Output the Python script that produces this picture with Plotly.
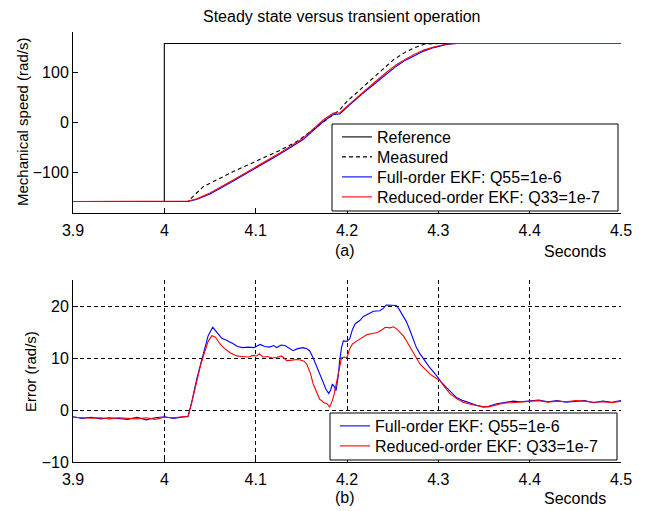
import plotly.graph_objects as go

# ---------------- data ----------------
t_ref = [3.9, 4.0, 4.0, 4.5]
speed_ref = [-157, -157, 157, 157]

t_meas = [3.9, 4.026, 4.032, 4.043, 4.06, 4.076, 4.092, 4.108, 4.127, 4.145, 4.16, 4.167,
          4.18, 4.192, 4.2, 4.211, 4.222, 4.237, 4.251, 4.263, 4.273, 4.285, 4.3, 4.5]
speed_meas = [-157, -157, -146, -127, -112, -97, -84, -71, -55, -38, -18, -8,
              10, 25, 42, 60, 78, 103, 125, 139, 148, 156, 157, 157]

t_est = [3.9, 4.026, 4.035, 4.05, 4.075, 4.101, 4.127, 4.152, 4.163, 4.174, 4.185, 4.192,
         4.203, 4.216, 4.229, 4.242, 4.254, 4.264, 4.273, 4.284, 4.295, 4.309, 4.32, 4.5]
speed_full = [-157, -157, -153, -142, -117, -90, -62, -34, -16, 2, 16, 17,
              35, 56, 75, 95, 112, 124, 132, 142, 149, 155, 157, 157]
speed_red = [-157, -156, -152, -140, -115, -87.5, -60, -31, -13, 5, 18.7, 19,
             37, 58, 78, 98, 115, 126, 135, 144, 150, 156, 157, 157]

t_err_full = [3.9, 3.91, 3.92, 3.93, 3.94, 3.95, 3.96, 3.97, 3.98, 3.99, 4.0, 4.01, 4.02, 4.026,
              4.03, 4.035, 4.04, 4.043, 4.048, 4.053, 4.056, 4.059, 4.063, 4.068, 4.075, 4.08,
              4.086, 4.092, 4.098, 4.105, 4.11, 4.115, 4.12, 4.123, 4.128, 4.132, 4.137, 4.141,
              4.146, 4.152, 4.156, 4.159, 4.163, 4.167, 4.171, 4.174, 4.177, 4.18, 4.182, 4.184,
              4.186, 4.188, 4.19, 4.192, 4.194, 4.196, 4.2, 4.203, 4.206, 4.209, 4.214, 4.218,
              4.223, 4.229, 4.236, 4.24, 4.243, 4.248, 4.254, 4.257, 4.26, 4.265, 4.269, 4.273,
              4.276, 4.28, 4.285, 4.29, 4.298, 4.303, 4.309, 4.315, 4.32, 4.327, 4.335, 4.342,
              4.349, 4.355, 4.364, 4.372, 4.382, 4.39, 4.4, 4.41, 4.42, 4.43, 4.44, 4.45, 4.46,
              4.47, 4.48, 4.49, 4.5]
err_full = [-1.3, -1.6, -1.4, -1.7, -1.5, -1.6, -1.8, -1.4, -1.9, -1.5, -1.3, -1.6, -1.4, -1.2,
            1.5, 5.6, 9.0, 10.8, 14.3, 15.9, 15.2, 14.6, 13.8, 13.4, 12.8, 12.2,
            12.0, 12.1, 12.0, 12.6, 12.2, 12.1, 12.4, 12.0, 12.5, 12.4, 11.8, 11.4,
            11.8, 12.0, 11.8, 11.4, 10.0, 8.2, 6.5, 5.0, 4.0, 3.2, 3.8, 5.0,
            4.5, 3.7, 6.0, 9.5, 12.0, 13.3, 13.2, 13.7, 15.5, 16.6, 17.2, 18.0,
            18.4, 19.0, 19.1, 19.6, 20.2, 20.2, 20.1, 19.4, 18.5, 17.0, 15.3, 13.5,
            12.0, 10.8, 9.5, 8.3, 6.6, 5.4, 4.3, 3.2, 2.4, 1.8, 1.3, 0.9,
            0.6, 0.7, 1.2, 1.4, 1.7, 1.6, 1.8, 1.9, 1.6, 1.8, 1.5, 1.7, 1.8,
            1.4, 1.7, 1.5, 1.8]

t_err_red = [3.9, 3.91, 3.92, 3.93, 3.94, 3.95, 3.96, 3.97, 3.98, 3.99, 4.0, 4.01, 4.02, 4.026,
             4.03, 4.035, 4.04, 4.043, 4.048, 4.052, 4.056, 4.061, 4.066, 4.072, 4.079, 4.085,
             4.092, 4.097, 4.101, 4.104, 4.108, 4.113, 4.118, 4.123, 4.128, 4.131, 4.134, 4.14,
             4.145, 4.149, 4.153, 4.156, 4.16, 4.163, 4.167, 4.17, 4.175, 4.178, 4.181, 4.184,
             4.186, 4.19, 4.192, 4.194, 4.197, 4.2, 4.203, 4.206, 4.211, 4.216, 4.222, 4.228,
             4.233, 4.238, 4.242, 4.247, 4.251, 4.255, 4.258, 4.262, 4.265, 4.269, 4.273, 4.277,
             4.28, 4.285, 4.291, 4.296, 4.302, 4.307, 4.313, 4.32, 4.327, 4.335, 4.342, 4.349,
             4.355, 4.362, 4.371, 4.38, 4.39, 4.4, 4.41, 4.42, 4.43, 4.44, 4.45, 4.46, 4.47,
             4.48, 4.49, 4.5]
err_red = [-1.4, -1.5, -1.6, -1.5, -1.7, -1.5, -1.6, -1.7, -1.5, -1.8, -1.4, -1.5, -1.3, -1.3,
           1.4, 5.4, 8.8, 10.5, 13.2, 14.3, 14.0, 12.7, 11.8, 11.0, 10.4, 10.3,
           10.2, 10.5, 10.4, 10.8, 10.2, 10.3, 10.0, 10.1, 10.4, 10.0, 9.5, 9.6,
           9.7, 9.6, 9.4, 8.8, 7.0, 5.0, 3.4, 2.1, 1.4, 1.2, 0.6, 1.8,
           3.1, 6.5, 8.8, 10.0, 10.2, 10.1, 11.8, 12.7, 13.3, 13.8, 14.5, 14.7,
           14.9, 15.4, 15.9, 15.8, 16.0, 15.5, 14.9, 14.2, 13.3, 12.0, 10.8, 9.7,
           8.8, 7.9, 6.9, 6.3, 5.6, 4.4, 3.1, 2.2, 1.5, 1.1, 0.8, 0.6,
           0.6, 0.9, 1.3, 1.4, 1.5, 1.7, 1.8, 1.5, 1.7, 1.6, 1.8, 1.7, 1.5,
           1.6, 1.4, 1.7]

x_ticks = [3.9, 4.0, 4.1, 4.2, 4.3, 4.4, 4.5]
x_ticktext = ["3.9", "4", "4.1", "4.2", "4.3", "4.4", "4.5"]
y1_ticks = [-100, 0, 100]
y2_ticks = [-10, 0, 10, 20]

names = ["Reference", "Measured", "Full-order EKF: Q55=1e-6", "Reduced-order EKF: Q33=1e-7"]

# ---------------- figure ----------------
W, H = 650, 511
FONT = "Liberation Sans, Arial, sans-serif"


def px_x(p):
    return p / W


def px_y(p):
    return 1 - p / H


fig = go.Figure()
lw = 1.1
fig.add_trace(go.Scatter(x=t_ref, y=speed_ref, mode="lines", name=names[0],
                         line=dict(color="black", width=lw), xaxis="x", yaxis="y", legend="legend"))
fig.add_trace(go.Scatter(x=t_meas, y=speed_meas, mode="lines", name=names[1],
                         line=dict(color="black", width=lw, dash="4px,3px"), xaxis="x", yaxis="y",
                         legend="legend2"))
fig.add_trace(go.Scatter(x=t_est, y=speed_full, mode="lines", name=names[2],
                         line=dict(color="blue", width=lw), xaxis="x", yaxis="y", legend="legend3"))
fig.add_trace(go.Scatter(x=t_est, y=speed_red, mode="lines", name=names[3],
                         line=dict(color="red", width=lw), xaxis="x", yaxis="y", legend="legend4"))
fig.add_trace(go.Scatter(x=t_err_full, y=err_full, mode="lines", name=names[2],
                         line=dict(color="blue", width=lw), xaxis="x2", yaxis="y2", legend="legend5"))
fig.add_trace(go.Scatter(x=t_err_red, y=err_red, mode="lines", name=names[3],
                         line=dict(color="red", width=lw), xaxis="x2", yaxis="y2", legend="legend6"))

axis_common = dict(showline=True, linecolor="black", linewidth=1, ticks="inside", ticklen=5,
                   tickcolor="black", zeroline=False, mirror=False, automargin=False,
                   tickfont=dict(family=FONT, size=16, color="black"))

xdom = [px_x(73), px_x(621)]


def leg(xp, yp):
    return dict(x=px_x(xp), y=px_y(yp), xanchor="left", yanchor="middle",
                bgcolor="rgba(0,0,0,0)", borderwidth=0,
                font=dict(family=FONT, size=16, color="black"))


fig.update_layout(
    width=W, height=H, margin=dict(l=0, r=0, t=0, b=0, autoexpand=False),
    paper_bgcolor="white", plot_bgcolor="white",
    font=dict(family=FONT, size=16, color="black"),
    xaxis=dict(domain=xdom, anchor="y", range=[3.9, 4.5], tickvals=x_ticks, ticktext=x_ticktext,
               showgrid=False, ticklabelstandoff=3, **axis_common),
    yaxis=dict(domain=[px_y(213), px_y(32)], anchor="x", range=[-180, 180], tickvals=y1_ticks,
               showgrid=False, **axis_common),
    xaxis2=dict(domain=xdom, anchor="y2", range=[3.9, 4.5], tickvals=x_ticks, ticktext=x_ticktext,
                showgrid=True, gridcolor="black", gridwidth=1, griddash="4px,3px",
                ticklabelstandoff=3, **axis_common),
    yaxis2=dict(domain=[px_y(462), px_y(280)], anchor="x2", range=[-10, 25], tickvals=y2_ticks,
                showgrid=True, gridcolor="black", gridwidth=1, griddash="4px,3px", **axis_common),
    legend=leg(337, 137),
    legend2=leg(337, 157),
    legend3=leg(337, 177),
    legend4=leg(337, 197),
    legend5=leg(335, 426),
    legend6=leg(335, 446),
    showlegend=True,
)

# legend frames
for (x0, y0, x1, y1) in [(332, 124, 618, 211), (330, 413, 617, 460)]:
    fig.add_shape(type="rect", xref="paper", yref="paper",
                  x0=px_x(x0), x1=px_x(x1), y0=px_y(y1), y1=px_y(y0),
                  fillcolor="white", line=dict(color="black", width=1), layer="above")

ann = dict(xref="paper", yref="paper", showarrow=False)
f16 = dict(family=FONT, size=16, color="black")
f15 = dict(family=FONT, size=15, color="black")
fig.add_annotation(x=px_x(342), y=px_y(17), text="Steady state versus transient operation",
                   xanchor="center", yanchor="middle", font=f16, **ann)
fig.add_annotation(x=px_x(345), y=px_y(250), text="(a)", xanchor="center", yanchor="middle", font=f16, **ann)
fig.add_annotation(x=px_x(575), y=px_y(251), text="Seconds", xanchor="center", yanchor="middle", font=f16, **ann)
fig.add_annotation(x=px_x(345), y=px_y(497), text="(b)", xanchor="center", yanchor="middle", font=f16, **ann)
fig.add_annotation(x=px_x(575), y=px_y(498), text="Seconds", xanchor="center", yanchor="middle", font=f16, **ann)
fig.add_annotation(x=px_x(22), y=px_y(122), text="Mechanical speed (rad/s)", textangle=-90,
                   xanchor="center", yanchor="middle", font=f15, **ann)
fig.add_annotation(x=px_x(30), y=px_y(372), text="Error (rad/s)", textangle=-90,
                   xanchor="center", yanchor="middle", font=f15, **ann)

fig.write_html("out.html")
